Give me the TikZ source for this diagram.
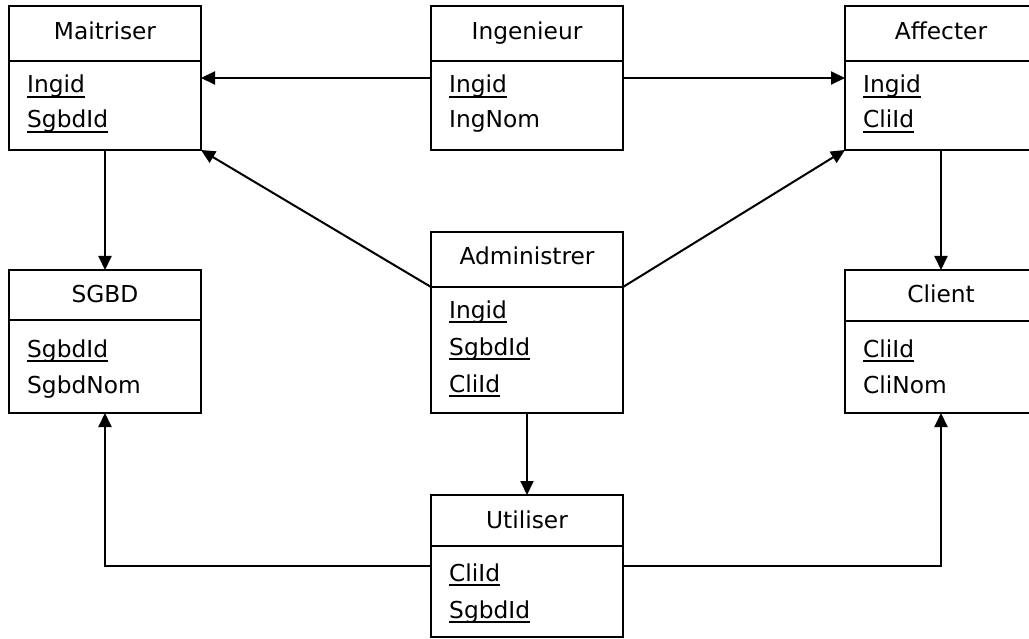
\documentclass[tikz,border=0pt]{standalone}
\usepackage{fontspec}
\setmainfont{DejaVu Sans}
\newcommand\myul[1]{\setbox0\hbox{#1}\rlap{\vrule width\wd0 height -3bp depth 4.6bp}\box0}
\usetikzlibrary{arrows.meta}
\begin{document}
\begin{tikzpicture}[x=1bp,y=-1bp,
  ebox/.style={draw, line width=2bp, rectangle, minimum width=192bp, inner sep=0pt, outer sep=0pt},
  divline/.style={line width=2bp},
  ttl/.style={anchor=base, inner sep=0pt, font=\fontsize{23.3bp}{27bp}\selectfont},
  attr/.style={anchor=base west, inner sep=0pt, font=\fontsize{23.3bp}{27bp}\selectfont},
  arr/.style={line width=2bp, -{Triangle[length=14bp,width=13bp]}}
]
\useasboundingbox (0,0) rectangle (1029,639);
\clip (0,0) rectangle (1029,639);
\fill[white] (0,0) rectangle (1029,639);

% Maitriser
\node[ebox, minimum height=144bp] (mait) at (105,78) {};
\coordinate (maitdl) at (9,61); \coordinate (maitdr) at (201,61);
\draw[divline] (maitdl) -- (maitdr);
\node[ttl] (maitt) at (105,40) {Maitriser};
\node[attr] (mait1) at (27,93) {\myul{Ingid}};
\node[attr] (mait2) at (27,128) {\myul{SgbdId}};

% Ingenieur
\node[ebox, minimum height=144bp] (ing) at (527,78) {};
\coordinate (ingdl) at (431,61); \coordinate (ingdr) at (623,61);
\draw[divline] (ingdl) -- (ingdr);
\node[ttl] (ingt) at (527,40) {Ingenieur};
\node[attr] (ing1) at (449,93) {\myul{Ingid}};
\node[attr] (ing2) at (449,128) {IngNom};

% Affecter
\node[ebox, minimum height=144bp] (aff) at (941,78) {};
\coordinate (affdl) at (845,61); \coordinate (affdr) at (1037,61);
\draw[divline] (affdl) -- (affdr);
\node[ttl] (afft) at (941,40) {Affecter};
\node[attr] (aff1) at (863,93) {\myul{Ingid}};
\node[attr] (aff2) at (863,128) {\myul{CliId}};

% SGBD
\node[ebox, minimum height=143bp] (sgbd) at (105,341.5) {};
\coordinate (sgbddl) at (9,320); \coordinate (sgbddr) at (201,320);
\draw[divline] (sgbddl) -- (sgbddr);
\node[ttl] (sgbdt) at (105,303) {SGBD};
\node[attr] (sgbd1) at (27,357) {\myul{SgbdId}};
\node[attr] (sgbd2) at (27,393) {SgbdNom};

% Administrer
\node[ebox, minimum height=181bp] (adm) at (527,322.5) {};
\coordinate (admdl) at (431,287); \coordinate (admdr) at (623,287);
\draw[divline] (admdl) -- (admdr);
\node[ttl] (admt) at (527,265) {Administrer};
\node[attr] (adm1) at (449,318) {\myul{Ingid}};
\node[attr] (adm2) at (449,355) {\myul{SgbdId}};
\node[attr] (adm3) at (449,392) {\myul{CliId}};

% Client
\node[ebox, minimum height=143bp] (cli) at (941,341.5) {};
\coordinate (clidl) at (845,321); \coordinate (clidr) at (1037,321);
\draw[divline] (clidl) -- (clidr);
\node[ttl] (clit) at (941,303) {Client};
\node[attr] (cli1) at (863,357) {\myul{CliId}};
\node[attr] (cli2) at (863,393) {CliNom};

% Utiliser
\node[ebox, minimum height=142bp] (util) at (527,566) {};
\coordinate (utildl) at (431,546); \coordinate (utildr) at (623,546);
\draw[divline] (utildl) -- (utildr);
\node[ttl] (utilt) at (527,528) {Utiliser};
\node[attr] (util1) at (449,581) {\myul{CliId}};
\node[attr] (util2) at (449,618) {\myul{SgbdId}};

% connectors
\draw[arr] (ing.west) -- (mait.east);
\draw[arr] (ing.east) -- (aff.west);
\draw[arr] (mait.south) -- (sgbd.north);
\draw[arr] (aff.south) -- (cli.north);
\draw[arr] (admdl) -- (mait.south east);
\draw[arr] (admdr) -- (aff.south west);
\draw[arr] (adm.south) -- (util.north);
\draw[arr] (util.west) -| (sgbd.south);
\draw[arr] (util.east) -| (cli.south);
\end{tikzpicture}
\end{document}
